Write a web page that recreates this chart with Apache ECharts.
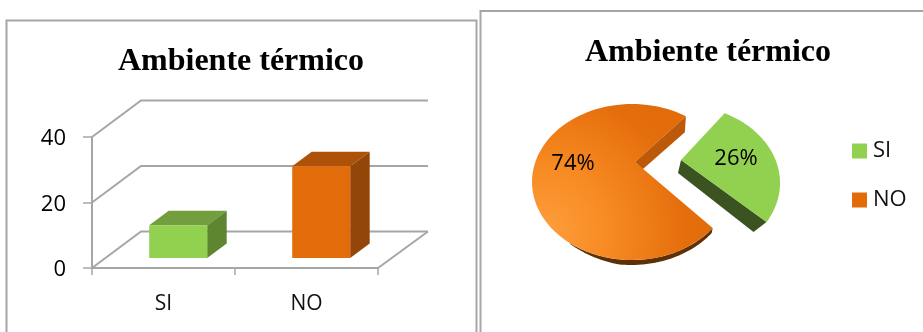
<!DOCTYPE html>
<html>
<head>
<meta charset="utf-8">
<style>html,body{margin:0;padding:0;background:#fff;overflow:hidden}#c{width:923px;height:332px}</style>
<script src="https://cdn.jsdelivr.net/npm/echarts@6/dist/echarts.min.js"></script>
</head>
<body>
<div id="c"></div>
<script>
const chartTitle = 'Ambiente térmico';
const categories = ['SI', 'NO'];
const barValues = [10, 28];
const yTicks = [0, 20, 40];
const pieShares = [26, 74];

const FONT = '"Open Sans", sans-serif';
const GREY = '#a6a6a6';
const DEPTH_X = 49, DEPTH_Y = -36.5;
const BAR_W = 58, BAR_SHIFT = 14.7, BAR_LIFT = 10, BAR_DX = 19.5, BAR_DY = -14.5;
const barColors = [
  { front: '#92d050', top: '#739e3e', side: '#5e8530' },
  { front: '#e36c0a', top: '#ae5207', side: '#93460a' }
];

const chart = echarts.init(document.getElementById('c'), null, { renderer: 'canvas' });

function arc(cx, cy, rx, ry, from, to) {
  const pts = [], n = 90;
  for (let i = 0; i <= n; i++) {
    const a = (from + (to - from) * i / n) * Math.PI / 180;
    pts.push([cx + rx * Math.cos(a), cy - ry * Math.sin(a)]);
  }
  return pts;
}
function poly(points, fill, z2) {
  return { type: 'polygon', z2: z2 || 0, shape: { points }, style: { fill, stroke: null } };
}
function pctLabel(text, x, y) {
  return { type: 'text', z2: 20, style: { text, x, y, fill: '#000', font: '22px ' + FONT, textAlign: 'center', textVerticalAlign: 'middle' } };
}

const option = {
  animation: false,
  backgroundColor: '#fff',
  title: [
    { text: chartTitle, left: 236, top: 41, textAlign: 'center', textStyle: { fontFamily: '"Liberation Serif", serif', fontWeight: 'bold', fontSize: 32, color: '#000' } },
    { text: chartTitle, left: 703, top: 32, textAlign: 'center', textStyle: { fontFamily: '"Liberation Serif", serif', fontWeight: 'bold', fontSize: 32, color: '#000' } }
  ],
  graphic: [
    { type: 'rect', silent: true, z: 0, shape: { x: 6.5, y: 20.5, width: 470, height: 400 }, style: { fill: '#fff', stroke: GREY, lineWidth: 2 } },
    { type: 'rect', silent: true, z: 0, shape: { x: 480.5, y: 11, width: 480, height: 400 }, style: { fill: '#fff', stroke: GREY, lineWidth: 2 } }
  ],
  grid: { left: 92, top: 137, width: 286, height: 131, containLabel: false },
  xAxis: {
    type: 'category', data: categories, boundaryGap: true,
    axisLine: { lineStyle: { color: GREY, width: 2 } },
    axisTick: { show: true, alignWithLabel: false, length: 7, lineStyle: { color: GREY, width: 1.5 } },
    axisLabel: { color: '#111', fontFamily: FONT, fontSize: 21, margin: 26 }
  },
  yAxis: {
    type: 'value', min: yTicks[0], max: yTicks[yTicks.length - 1], interval: yTicks[1] - yTicks[0],
    splitLine: { show: false },
    axisLine: { show: true, lineStyle: { color: GREY, width: 2 } },
    axisTick: { show: true, length: 9, lineStyle: { color: GREY, width: 1.5 } },
    axisLabel: {
      margin: 26, formatter: '{a|{value}}',
      rich: { a: { color: '#000', fontFamily: FONT, fontSize: 22, padding: [4, 0, 0, 0] } }
    }
  },
  legend: {
    orient: 'vertical', left: 847, top: 135, itemWidth: 15, itemHeight: 15, itemGap: 27,
    icon: 'rect', data: categories, selectedMode: false,
    textStyle: { fontFamily: FONT, fontSize: 22, color: '#111', padding: [0, 0, 0, 1] }
  },
  series: [
    {
      type: 'custom', name: 'walls', coordinateSystem: 'cartesian2d', z: 1, silent: true, clip: false,
      data: yTicks.map(t => [0, t]),
      encode: { x: 0, y: 1 },
      renderItem(params, api) {
        const y = api.coord([0, api.value(1)])[1];
        const left = params.coordSys.x, right = left + params.coordSys.width;
        const lineStyle = { stroke: GREY, lineWidth: 2, fill: null };
        const children = [{
          type: 'polyline', shape: { points: [[left, y], [left + DEPTH_X, y + DEPTH_Y], [right + DEPTH_X + 1, y + DEPTH_Y]] }, style: lineStyle
        }];
        if (api.value(1) === 0) {
          children.push({ type: 'line', shape: { x1: right, y1: y, x2: right + DEPTH_X + 1, y2: y + DEPTH_Y }, style: lineStyle });
        }
        return { type: 'group', children };
      }
    },
    {
      type: 'custom', name: 'bars', coordinateSystem: 'cartesian2d', z: 3, silent: true, clip: false,
      data: barValues.map((v, i) => [i, v]),
      encode: { x: 0, y: 1 },
      renderItem(params, api) {
        const i = api.value(0);
        const top = api.coord([i, api.value(1)]);
        const base = api.coord([i, 0]);
        const x0 = top[0] + BAR_SHIFT - BAR_W / 2, x1 = x0 + BAR_W;
        const y0 = top[1] - BAR_LIFT, y1 = base[1] - BAR_LIFT;
        const c = barColors[i];
        return { type: 'group', children: [
          poly([[x0, y0], [x1, y0], [x1 + BAR_DX, y0 + BAR_DY], [x0 + BAR_DX, y0 + BAR_DY]], c.top),
          poly([[x1, y0], [x1 + BAR_DX, y0 + BAR_DY], [x1 + BAR_DX, y1 + BAR_DY], [x1, y1]], c.side),
          poly([[x0, y0], [x1, y0], [x1, y1], [x0, y1]], c.front)
        ] };
      }
    },
    {
      type: 'custom', name: categories[0], coordinateSystem: 'none', z: 4, silent: true, clip: false,
      itemStyle: { color: '#92d050' },
      data: [pieShares[0]],
      renderItem(params, api) {
        const share = api.value(0);
        const span = share / 100 * 360;
        const rim = arc(680, 183, 100, 78, 63.5, 63.5 - span);
        const end = rim[rim.length - 1];
        const apex = [681, 160];
        return { type: 'group', children: [
          poly([apex, end, [end[0] - 13, end[1] + 10], [apex[0] - 3, apex[1] + 13]], '#3a5320', 1),
          poly([apex].concat(rim), '#92d050', 2),
          pctLabel(share + '%', 736, 159)
        ] };
      }
    },
    {
      type: 'custom', name: categories[1], coordinateSystem: 'none', z: 4, silent: true, clip: false,
      itemStyle: { color: '#e36c0a' },
      data: [pieShares[1]],
      renderItem(params, api) {
        const share = api.value(0);
        const span = share / 100 * 360;
        const rim = arc(632, 182, 100, 78, 57.4, 57.4 + span);
        const apex = [635, 162];
        const start = rim[0];
        const edge = arc(632, 182, 100, 78, 232, 57.4 + span);
        const lower = edge.map((p, i) => [p[0] - 1, p[1] + Math.min(5, 5 * i / 30)]).reverse();
        const fill = new echarts.graphic.RadialGradient(545, 232, 165, [
          { offset: 0, color: '#fd9e3d' },
          { offset: 0.4, color: '#f78a22' },
          { offset: 0.85, color: '#e56e0c' },
          { offset: 1, color: '#e36c0a' }
        ], true);
        return { type: 'group', children: [
          poly(edge.concat(lower), '#5e3005', 1),
          poly([apex].concat(rim), fill, 2),
          poly([start, [start[0] - 1, start[1] + 16], [643, 169], apex], '#bd5a0a', 3),
          pctLabel(share + '%', 573, 164)
        ] };
      }
    }
  ]
};
chart.setOption(option);
</script>
</body>
</html>
